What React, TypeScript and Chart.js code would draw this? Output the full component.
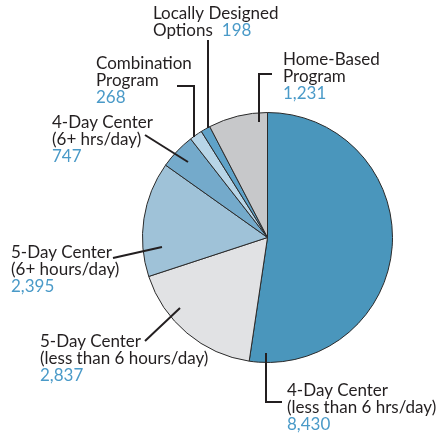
import React, { useEffect, useRef } from "react";
import { Chart, registerables } from "chart.js";

Chart.register(...registerables);

const categories = [
  "4-Day Center (less than 6 hrs/day)",
  "5-Day Center (less than 6 hours/day)",
  "5-Day Center (6+ hours/day)",
  "4-Day Center (6+ hrs/day)",
  "Combination Program",
  "Locally Designed Options",
  "Home-Based Program",
];
const values = [8430, 2837, 2395, 747, 268, 198, 1231];
const valueLabels = ["8,430", "2,837", "2,395", "747", "268", "198", "1,231"];
const labelLines: string[][] = [
  ["4-Day Center", "(less than 6 hrs/day)"],
  ["5-Day Center", "(less than 6 hours/day)"],
  ["5-Day Center", "(6+ hours/day)"],
  ["4-Day Center", "(6+ hrs/day)"],
  ["Combination", "Program"],
  ["Locally Designed", "Options"],
  ["Home-Based", "Program"],
];
const colors = ["#4a96bc", "#e1e2e4", "#9fc2d8", "#74aacb", "#b8d5e7", "#5fa2c8", "#c7c8ca"];

// Annotation layout: text anchor (x, first-line baseline y), whether value is inline,
// and leader polyline (pixel points).
type Lay = { x: number; y: number; inline?: boolean; leader: number[][] };
const layout: Lay[] = [
  { x: 287, y: 396, leader: [[266, 353], [266, 402], [282, 402]] },
  { x: 40, y: 347, leader: [[145, 341], [180, 308]] },
  { x: 11, y: 258, leader: [[113, 258], [162, 247]] },
  { x: 52, y: 128, leader: [[145, 135], [188, 162]] },
  { x: 96, y: 69, leader: [[177, 86], [194, 86], [194, 137]] },
  { x: 153, y: 19, inline: true, leader: [[208, 40], [208, 128]] },
  { x: 283, y: 65, leader: [[272, 74], [259, 74], [259, 122]] },
];

const FONT = "17px Lato, 'Liberation Sans', sans-serif";
const LINE_H = 17.2;

const labelPlugin = {
  id: "pieLabels",
  afterDraw(chart: any) {
    const ctx = chart.ctx;
    ctx.save();
    ctx.strokeStyle = "#231f20";
    ctx.lineWidth = 2;
    ctx.lineCap = "butt";
    ctx.lineJoin = "miter";
    layout.forEach((l) => {
      ctx.beginPath();
      l.leader.forEach((p, i) => (i === 0 ? ctx.moveTo(p[0], p[1]) : ctx.lineTo(p[0], p[1])));
      ctx.stroke();
    });
    ctx.font = FONT;
    ctx.textBaseline = "alphabetic";
    ctx.textAlign = "left";
    layout.forEach((l, i) => {
      const lines = labelLines[i];
      lines.forEach((t, j) => {
        ctx.fillStyle = "#231f20";
        ctx.fillText(t, l.x, l.y + j * LINE_H);
      });
      ctx.fillStyle = "#4a9ac8";
      if (l.inline) {
        const w = ctx.measureText(lines[lines.length - 1]).width;
        ctx.fillText(valueLabels[i], l.x + w + 9, l.y + (lines.length - 1) * LINE_H);
      } else {
        ctx.fillText(valueLabels[i], l.x, l.y + lines.length * LINE_H);
      }
    });
    ctx.restore();
  },
};

export default function App() {
  const ref = useRef<HTMLCanvasElement>(null);
  useEffect(() => {
    if (!ref.current) return;
    const chart = new Chart(ref.current, {
      type: "pie",
      data: {
        labels: categories,
        datasets: [
          {
            data: values,
            backgroundColor: colors,
            borderColor: "#2a2a2a",
            borderWidth: 1,
            hoverBorderWidth: 1,
          },
        ],
      },
      options: {
        animation: false,
        responsive: false,
        maintainAspectRatio: false,
        layout: { padding: { left: 142, right: 47, top: 112, bottom: 72 } },
        plugins: { legend: { display: false }, tooltip: { enabled: false } },
      },
      plugins: [labelPlugin],
    });
    return () => chart.destroy();
  }, []);
  return (
    <div style={{ position: "fixed", left: 0, top: 0, width: 440, height: 435, background: "#fff" }}>
      <canvas ref={ref} width={440} height={435} style={{ width: 440, height: 435 }} />
    </div>
  );
}
